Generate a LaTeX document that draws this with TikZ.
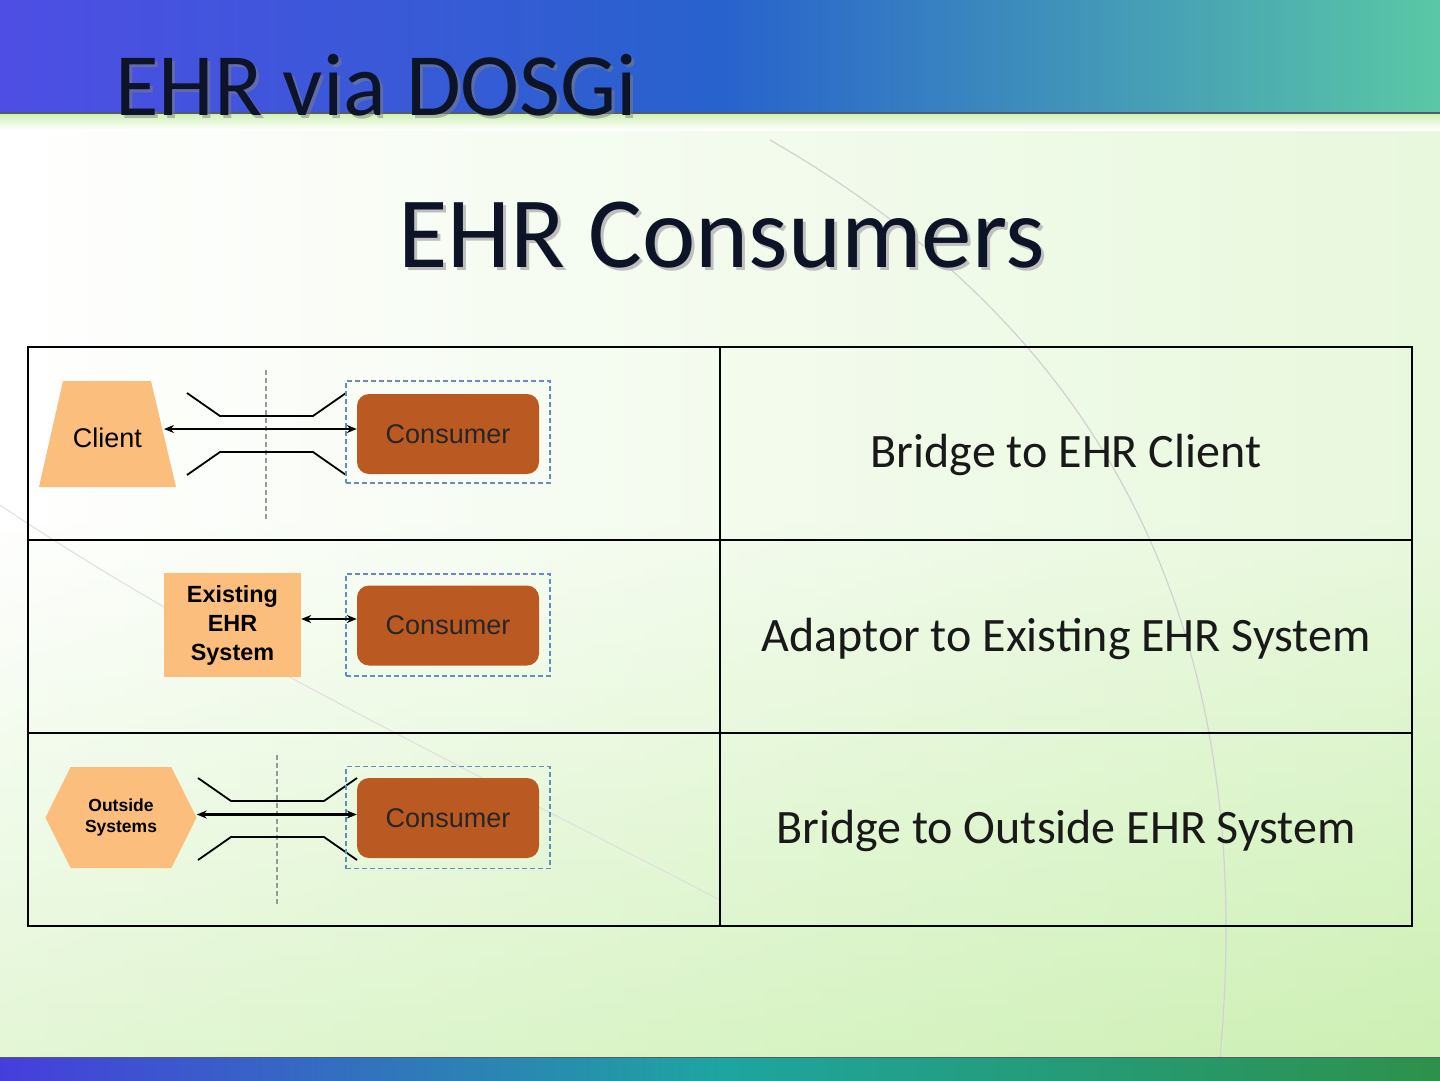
\documentclass[tikz,border=0pt]{standalone}
\usepackage{fontspec}
\setmainfont{Carlito}
\newfontfamily\arialfont{Liberation Sans}
\usepackage{tikz}
\usetikzlibrary{positioning,arrows.meta,shapes.geometric,shapes.symbols}
\usepackage{xcolor}

\definecolor{ehrorange}{RGB}{252,190,125}
\definecolor{ehrbrown}{RGB}{186,90,34}
\definecolor{ehrframe}{RGB}{100,140,190}
\definecolor{ehrnavy}{RGB}{14,20,40}
\definecolor{bandleft}{RGB}{78,78,228}
\definecolor{bandmid}{RGB}{40,98,205}
\definecolor{bandright}{RGB}{90,200,165}
\definecolor{footleft}{RGB}{70,62,220}
\definecolor{footmid}{RGB}{30,165,160}
\definecolor{footright}{RGB}{45,145,75}
\definecolor{paleleaf}{RGB}{205,240,180}

% bent channel lines round a connector
\newcommand{\ehrchannel}[2]{%
  \draw[channel] (#1,#2-41) -- (#1+33,#2-18) -- (#1+126,#2-18) -- (#1+159,#2-41);
  \draw[channel] (#1,#2+41) -- (#1+33,#2+18) -- (#1+126,#2+18) -- (#1+159,#2+41);}

\begin{document}
\begin{tikzpicture}[x=1pt,y=-1pt,>={Stealth[length=10pt,width=8pt]},
  channel/.style={line width=1.8pt},
  fence/.style={draw=gray!80,dash pattern=on 5pt off 3pt,line width=1.5pt},
  consumer/.style={draw=none,fill=ehrbrown,rounded corners=12pt,minimum width=182pt,minimum height=80pt,
    font=\arialfont\fontsize{27}{32}\selectfont,text=black!85},
  frame/.style={draw=ehrframe,dash pattern=on 5pt off 3pt,line width=1.5pt,minimum width=204pt,minimum height=102pt},
  sidebox/.style={fill=ehrorange,inner sep=0pt},
  bridge/.style={font=\fontsize{48}{56}\selectfont,text=black!90,anchor=base},
  link/.style={<->,line width=2.2pt}]
\useasboundingbox (0,0) rectangle (1440,1080);

% background
\fill[white] (0,0) rectangle (1440,1080);
\shade[top color=white,bottom color=paleleaf] (0,520) rectangle (1440,1057);
\shade[left color=white,right color=paleleaf,opacity=0.45] (0,113) rectangle (1440,1057);
\draw[gray!35,line width=1.2pt] (770,140) .. controls (1100,330) and (1260,620) .. (1220,1057);
\draw[gray!25,line width=1pt] (0,505) .. controls (200,640) and (450,760) .. (720,900);
\shade[left color=bandleft,right color=bandright,middle color=bandmid] (0,0) rectangle (1440,113);
\shade[top color=paleleaf,bottom color=white] (0,113) rectangle (1440,130);
\draw[ehrnavy!70,line width=1.2pt] (0,113) -- (1440,113);
\shade[left color=footleft,right color=footright,middle color=footmid] (0,1057) rectangle (1440,1080);
\draw[ehrnavy!70,line width=1pt] (0,1057) -- (1440,1057);

% headings
\node[anchor=base west,font=\fontsize{89}{100}\selectfont,text=black!50,opacity=0.5] at (115,118) {EHR via DOSGi};
\node[anchor=base west,font=\fontsize{89}{100}\selectfont,text=ehrnavy] (title) at (112,115) {EHR via DOSGi};
\node[anchor=base,font=\fontsize{101}{112}\selectfont,text=black!25] at (725,270) {EHR Consumers};
\node[anchor=base,font=\fontsize{101}{112}\selectfont,text=ehrnavy] (heading) at (722,267) {EHR Consumers};

% table
\draw[line width=1.3pt] (28,347) rectangle (1412,926);
\draw[line width=1.3pt] (720,347) -- (720,926);
\draw[line width=1.3pt] (28,540) -- (1412,540);
\draw[line width=1.3pt] (28,733) -- (1412,733);

% row 1
\fill[ehrorange] (39,487) -- (63,381) -- (151,381) -- (176,487) -- cycle;
\node[font=\arialfont\fontsize{27}{32}\selectfont] (client) at (107.5,438) {Client};
\coordinate (clientedge) at (164,429);
\draw[fence] (266,370) -- (266,520);
\ehrchannel{187}{434}
\node[frame] (frame1) at (448,432) {};
\node[consumer] (cons1) at (448,434) {Consumer};
\draw[link] (clientedge) -- (clientedge -| cons1.west);
\node[bridge] (bridge1) at (1066,467) {Bridge to EHR Client};

% row 2
\node[sidebox,minimum width=137pt,minimum height=104pt,align=center,
  font=\arialfont\bfseries\fontsize{23.4}{29}\selectfont] (existing) at (232.5,625) {Existing\\EHR\\System};
\node[frame] (frame2) at (448,625) {};
\node[consumer] (cons2) at (448,625.5) {Consumer};
\draw[link] ([yshift=6pt]existing.east) -- ([yshift=6pt]existing.east -| cons2.west);
\node[bridge] (bridge2) at (1066,651) {Adaptor to Existing EHR System};

% row 3
\node[sidebox,signal,signal to=west and east,signal pointer angle=127,minimum width=151pt,minimum height=101pt,
  align=center,font=\arialfont\bfseries\fontsize{17.5}{21}\selectfont] (outside) at (121,817.5) {Outside\\Systems};
\draw[fence] (277,755) -- (277,905);
\ehrchannel{198}{819}
\node[frame] (frame3) at (448,817.5) {};
\node[consumer] (cons3) at (448,818) {Consumer};
\draw[link] ([yshift=3pt]outside.east) -- ([yshift=3pt]outside.east -| cons3.west);
\node[bridge] (bridge3) at (1066,843) {Bridge to Outside EHR System};
\end{tikzpicture}
\end{document}
